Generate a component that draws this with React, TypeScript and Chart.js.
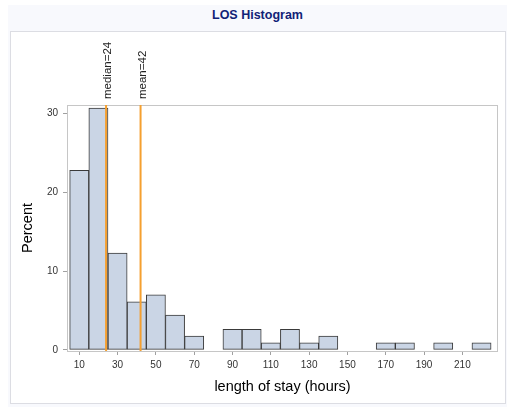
import React, { useEffect, useRef } from "react";
import { Chart, registerables } from "chart.js";

Chart.register(...registerables);

const binCenters = [10, 20, 30, 40, 50, 60, 70, 80, 90, 100, 110, 120, 130, 140, 150, 160, 170, 180, 190, 200, 210, 220];
const percents = [22.8, 30.7, 12.3, 6.1, 7.0, 4.4, 1.75, 0, 2.6, 2.6, 0.9, 2.6, 0.9, 1.75, 0, 0, 0.9, 0.9, 0, 0.9, 0, 0.9];
const xTicks = [10, 30, 50, 70, 90, 110, 130, 150, 170, 190, 210];
const yTicks = [0, 10, 20, 30];
const refLines = [
  { value: 24, label: "median=24" },
  { value: 42, label: "mean=42" },
];
const titleText = "LOS Histogram";
const xTitle = "length of stay (hours)";
const yTitle = "Percent";

const FONT = "'Liberation Sans', Arial, sans-serif";

export default function App() {
  const ref = useRef<HTMLCanvasElement | null>(null);

  useEffect(() => {
    const canvas = ref.current;
    if (!canvas) return;

    const decor = {
      id: "decor",
      beforeDatasetsDraw(chart: any) {
        const { ctx, chartArea: a } = chart;
        ctx.save();
        ctx.strokeStyle = "#c6c6c6";
        ctx.lineWidth = 1;
        ctx.strokeRect(a.left + 0.5, a.top + 0.5, a.right - a.left - 1, a.bottom - a.top);
        ctx.restore();
      },
      afterDatasetsDraw(chart: any) {
        const { ctx, chartArea: a, scales } = chart;
        ctx.save();
        for (const r of refLines) {
          const x = scales.x.getPixelForValue(r.value);
          ctx.strokeStyle = "#f5a030";
          ctx.lineWidth = 2;
          ctx.beginPath();
          ctx.moveTo(x, a.top);
          ctx.lineTo(x, a.bottom);
          ctx.stroke();
          ctx.save();
          ctx.translate(x + 5, a.top - 6);
          ctx.rotate(-Math.PI / 2);
          ctx.fillStyle = "#222";
          ctx.font = `11.5px ${FONT}`;
          ctx.textAlign = "left";
          ctx.textBaseline = "alphabetic";
          ctx.fillText(r.label, 0, 0);
          ctx.restore();
        }
        // axis titles
        ctx.fillStyle = "#000";
        ctx.font = `14.5px ${FONT}`;
        ctx.textAlign = "center";
        ctx.textBaseline = "middle";
        ctx.fillText(xTitle, (a.left + a.right) / 2, 387);
        ctx.save();
        ctx.translate(28, (a.top + a.bottom) / 2);
        ctx.rotate(-Math.PI / 2);
        ctx.fillText(yTitle, 0, 0);
        ctx.restore();
        ctx.restore();
      },
    };

    const chart = new Chart(canvas, {
      type: "bar",
      data: {
        datasets: [
          {
            data: binCenters.map((c, i) => ({ x: c, y: percents[i] })),
            backgroundColor: "#cad5e5",
            borderColor: "#3a3a3a",
            borderWidth: 1,
            borderSkipped: false,
            barPercentage: 1,
            categoryPercentage: 1,
          },
        ],
      },
      options: {
        animation: false,
        responsive: false,
        maintainAspectRatio: false,
        layout: { padding: { left: 10, right: 9, top: 105, bottom: 10 } },
        plugins: {
          legend: { display: false },
          tooltip: { enabled: false },
          title: { display: false },
        },
        scales: {
          x: {
            type: "linear",
            offset: false,
            min: 3.6,
            max: 228.6,
            afterBuildTicks: (s: any) => {
              s.ticks = xTicks.map((v) => ({ value: v }));
            },
            afterFit: (s: any) => {
              s.height = 51;
            },
            grid: { display: true, offset: false, drawOnChartArea: false, drawTicks: true, tickLength: 4, color: "#a0a0a0" },
            border: { display: false },
            ticks: {
              color: "#333",
              font: { family: FONT, size: 10 },
              padding: 4,
              maxRotation: 0,
              autoSkip: false,
            },
          },
          y: {
            type: "linear",
            min: -0.15,
            max: 31.1,
            afterBuildTicks: (s: any) => {
              s.ticks = yTicks.map((v) => ({ value: v }));
            },
            afterFit: (s: any) => {
              s.width = 57;
            },
            grid: { display: true, drawOnChartArea: false, drawTicks: true, tickLength: 4, color: "#a0a0a0" },
            border: { display: false },
            ticks: {
              color: "#333",
              font: { family: FONT, size: 10 },
              padding: 5,
              autoSkip: false,
            },
          },
        },
      },
      plugins: [decor],
    } as any);

    return () => chart.destroy();
  }, []);

  return (
    <div style={{ position: "fixed", left: 0, top: 0, width: 507, height: 412, background: "#fff", overflow: "hidden" }}>
      <div style={{ position: "absolute", left: 8, top: 5, width: 499, height: 402, background: "#f8f9fd" }} />
      <div
        style={{
          position: "absolute",
          left: 10,
          top: 31,
          width: 494,
          height: 371,
          background: "#fff",
          border: "1px solid #dcdde3",
        }}
      />
      <div
        style={{
          position: "absolute",
          left: 8,
          width: 499,
          top: 7,
          textAlign: "center",
          fontFamily: FONT,
          fontWeight: "bold",
          fontSize: 12.5,
          color: "#112277",
          lineHeight: "16px",
        }}
      >
        {titleText}
      </div>
      <canvas ref={ref} width={507} height={412} style={{ position: "absolute", left: 0, top: 0, width: 507, height: 412 }} />
    </div>
  );
}
